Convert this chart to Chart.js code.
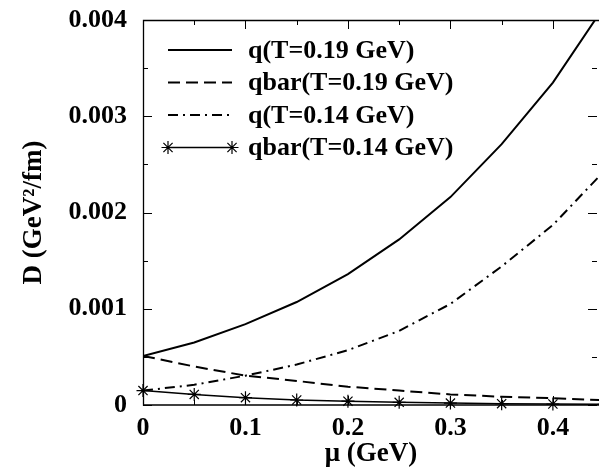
<!DOCTYPE html>
<html>
<head>
<meta charset="utf-8">
<script src="https://cdn.jsdelivr.net/npm/chart.js@4.4.1/dist/chart.umd.min.js"></script>
<style>
html, body { margin: 0; padding: 0; background: #fff; }
#chart-container { width: 599px; height: 470px; }
</style>
</head>
<body>
<div id="chart-container"><canvas id="mycanvas" width="599" height="470"></canvas></div>
<script>
// mu in GeV
var mu = [0, 0.05, 0.1, 0.15, 0.2, 0.25, 0.3, 0.35, 0.4, 0.45];
var q_019 = [0.00051, 0.00065, 0.00084, 0.00107, 0.00136, 0.00172, 0.00216, 0.00271, 0.00335, 0.00414];
var qbar_019 = [0.00051, 0.00040, 0.000305, 0.00025, 0.00019, 0.00015, 0.00011, 0.000086, 0.00007, 0.00005];
var q_014 = [0.00015, 0.00021, 0.000305, 0.00042, 0.00057, 0.00077, 0.00105, 0.00144, 0.00187, 0.00243];
var qbar_014 = [0.00015, 0.00011, 0.000076, 0.000052, 0.00004, 0.000028, 0.00002, 0.000014, 0.00001, 0.000007];

var series_labels = ['q(T=0.19 GeV)', 'qbar(T=0.19 GeV)', 'q(T=0.14 GeV)', 'qbar(T=0.14 GeV)'];
var x_ticks = [0, 0.1, 0.2, 0.3, 0.4];
var x_minor = [0.05, 0.15, 0.25, 0.35];
var y_ticks = [0, 0.001, 0.002, 0.003, 0.004];
var y_minor = [0.0005, 0.0015, 0.0025, 0.0035];

var FONT = '"Liberation Serif", "DejaVu Serif", serif';

var toPoints = function(ys) {
    var pts = [];
    for (var i = 0; i < mu.length; i++) {
        pts.push({ x: mu[i], y: ys[i] });
    }
    return pts;
};

var fmt = function(v, digits) {
    if (Math.abs(v) < 1e-12) return '0';
    return v.toFixed(digits);
};

// no extra room for overflowing tick labels, chart area is fixed by layout padding
var noPad = function(scale) {
    scale.paddingTop = 0;
    scale.paddingBottom = 0;
    scale.paddingLeft = 0;
    scale.paddingRight = 0;
};

// gnuplot style frame: inward ticks + legend inside the plot
var framePlugin = {
    id: 'frame',
    afterDraw: function(chart) {
        var ctx = chart.ctx;
        var a = chart.chartArea;
        var xs = chart.scales.x, ys = chart.scales.y;
        ctx.save();
        ctx.strokeStyle = '#000';
        ctx.lineWidth = 1.3;
        ctx.beginPath();
        ctx.moveTo(a.right, a.top + 0.5);
        ctx.lineTo(a.left + 0.5, a.top + 0.5);
        ctx.lineTo(a.left + 0.5, a.bottom);
        ctx.lineTo(a.right, a.bottom);
        ctx.stroke();

        ctx.lineWidth = 1;
        ctx.beginPath();
        var drawY = function(v, len) {
            var y = Math.round(ys.getPixelForValue(v)) + 0.5;
            ctx.moveTo(a.left, y); ctx.lineTo(a.left + len, y);
            ctx.moveTo(a.right - 2, y); ctx.lineTo(a.right - 2 - len, y);
        };
        var drawX = function(v, len) {
            var x = Math.round(xs.getPixelForValue(v)) + 0.5;
            ctx.moveTo(x, a.bottom); ctx.lineTo(x, a.bottom - len);
            ctx.moveTo(x, a.top); ctx.lineTo(x, a.top + len);
        };
        y_ticks.forEach(function(v) { drawY(v, 9); });
        y_minor.forEach(function(v) { drawY(v, 5); });
        x_ticks.forEach(function(v) { drawX(v, 9); });
        x_minor.forEach(function(v) { drawX(v, 5); });
        ctx.stroke();

        // legend
        ctx.font = 'bold 26px ' + FONT;
        ctx.textBaseline = 'middle';
        ctx.textAlign = 'left';
        ctx.fillStyle = '#000';
        var x0 = a.left + 25, x1 = a.left + 89, tx = a.left + 105;
        chart.data.datasets.forEach(function(ds, i) {
            var y = a.top + 30 + i * 32.5;
            ctx.save();
            ctx.lineWidth = ds.borderWidth;
            ctx.setLineDash(ds.borderDash || []);
            ctx.beginPath();
            ctx.moveTo(x0, y); ctx.lineTo(x1, y);
            ctx.stroke();
            ctx.restore();
            if (ds.pointRadius > 0) {
                [x0, x1].forEach(function(px) {
                    ctx.save();
                    ctx.lineWidth = ds.pointBorderWidth;
                    Chart.helpers.drawPoint(ctx, { pointStyle: ds.pointStyle, radius: ds.pointRadius, rotation: 0, borderWidth: ds.pointBorderWidth }, px, y);
                    ctx.restore();
                });
            }
            ctx.fillText(ds.label, tx, y + 1);
        });
        ctx.restore();
    }
};

var chartdata = {
    datasets: [
        {
            label: series_labels[0],
            data: toPoints(q_019),
            borderColor: '#000',
            borderWidth: 2,
            pointRadius: 0,
            clip: { left: 0, top: 0, right: 0, bottom: 0 }
        },
        {
            label: series_labels[1],
            data: toPoints(qbar_019),
            borderColor: '#000',
            borderWidth: 2,
            borderDash: [12, 6],
            pointRadius: 0,
            clip: { left: 0, top: 0, right: 0, bottom: 0 }
        },
        {
            label: series_labels[2],
            data: toPoints(q_014),
            borderColor: '#000',
            borderWidth: 2,
            borderDash: [10, 5, 2, 5],
            pointRadius: 0,
            clip: { left: 0, top: 0, right: 0, bottom: 0 }
        },
        {
            label: series_labels[3],
            data: toPoints(qbar_014),
            borderColor: '#000',
            backgroundColor: '#000',
            borderWidth: 1.5,
            pointStyle: 'star',
            pointRadius: 6.5,
            pointBorderWidth: 1.2,
            pointBorderColor: '#000',
            clip: { left: 10, top: 0, right: 0, bottom: 10 }
        }
    ]
};

var ctx = document.getElementById('mycanvas');

var theChart = new Chart(ctx, {
    type: 'line',
    data: chartdata,
    plugins: [framePlugin],
    options: {
        responsive: false,
        animation: false,
        events: [],
        layout: { autoPadding: false, padding: { left: 0, right: 0, top: 20, bottom: 0 } },
        elements: { line: { tension: 0, fill: false } },
        plugins: {
            legend: { display: false },
            tooltip: { enabled: false }
        },
        scales: {
            x: {
                type: 'linear',
                bounds: 'data',
                min: 0,
                max: 0.445,
                grid: { display: false, drawTicks: false },
                border: { display: false },
                afterBuildTicks: function(scale) {
                    scale.ticks = x_ticks.map(function(v) { return { value: v }; });
                },
                afterFit: function(scale) { scale.height = 65; noPad(scale); },
                ticks: {
                    padding: 8,
                    maxRotation: 0,
                    color: '#000',
                    font: { family: FONT, size: 26, weight: 'bold' },
                    callback: function(v) { return fmt(v, 1); }
                },
                title: {
                    display: true,
                    text: '\u03bc (GeV)',
                    color: '#000',
                    font: { family: FONT, size: 27, weight: 'bold' },
                    padding: { top: 0, bottom: 0 }
                }
            },
            y: {
                type: 'linear',
                bounds: 'data',
                min: 0,
                max: 0.004,
                grid: { display: false, drawTicks: false },
                border: { display: false },
                afterBuildTicks: function(scale) {
                    scale.ticks = y_ticks.map(function(v) { return { value: v }; });
                },
                afterFit: function(scale) { scale.width = 143; noPad(scale); },
                ticks: {
                    padding: 16,
                    color: '#000',
                    font: { family: FONT, size: 26, weight: 'bold' },
                    callback: function(v) { return fmt(v, 3); }
                },
                title: {
                    display: true,
                    text: 'D (GeV\u00b2/fm)',
                    color: '#000',
                    font: { family: FONT, size: 27, weight: 'bold' },
                    padding: { top: 18, bottom: 0 }
                }
            }
        }
    }
});
</script>
</body>
</html>
